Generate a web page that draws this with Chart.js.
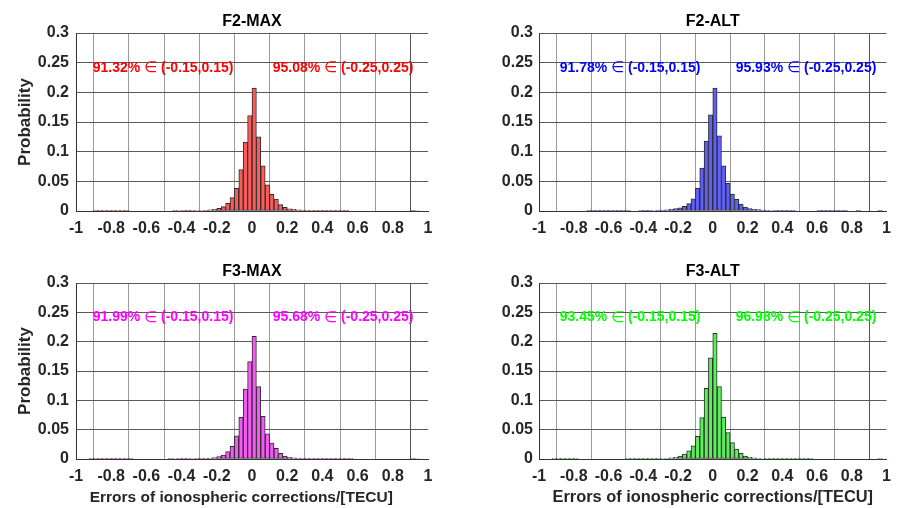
<!DOCTYPE html>
<html><head><meta charset="utf-8">
<script src="https://cdn.jsdelivr.net/npm/chart.js@4.4.1/dist/chart.umd.min.js"></script>
<style>
html,body{margin:0;padding:0;background:#fff;width:899px;height:508px;overflow:hidden;}
canvas{position:absolute;}
</style>
</head><body>
<canvas id="c0" width="449" height="250" style="left:0;top:0"></canvas>
<canvas id="c1" width="450" height="250" style="left:449px;top:0"></canvas>
<canvas id="c2" width="449" height="258" style="left:0;top:250px"></canvas>
<canvas id="c3" width="450" height="258" style="left:449px;top:250px"></canvas>
<script>
// ---- data ----
const binCenters = [
-0.9875,-0.9625,-0.9375,-0.9125,-0.8875,-0.8625,-0.8375,-0.8125,-0.7875,-0.7625,
-0.7375,-0.7125,-0.6875,-0.6625,-0.6375,-0.6125,-0.5875,-0.5625,-0.5375,-0.5125,
-0.4875,-0.4625,-0.4375,-0.4125,-0.3875,-0.3625,-0.3375,-0.3125,-0.2875,-0.2625,
-0.2375,-0.2125,-0.1875,-0.1625,-0.1375,-0.1125,-0.0875,-0.0625,-0.0375,-0.0125,
0.0125,0.0375,0.0625,0.0875,0.1125,0.1375,0.1625,0.1875,0.2125,0.2375,
0.2625,0.2875,0.3125,0.3375,0.3625,0.3875,0.4125,0.4375,0.4625,0.4875,
0.5125,0.5375,0.5625,0.5875,0.6125,0.6375,0.6625,0.6875,0.7125,0.7375,
0.7625,0.7875,0.8125,0.8375,0.8625,0.8875,0.9125,0.9375,0.9625,0.9875];

const probF2MAX = [
0,0,0,0,0.0003,0.0012,0.0006,0.0005,0.0005,0.0005,
0.0004,0.0003,0,0,0,0,0,0,0,0,
0,0,0.0004,0.0008,0.0012,0.0016,0.0012,0.0008,0.0008,0.0012,
0.0018,0.0028,0.0045,0.0073,0.0129,0.0225,0.038,0.070,0.116,0.161,
0.207,0.125,0.076,0.044,0.028,0.020,0.011,0.006,0.0038,0.0028,
0.002,0.0014,0.001,0.0006,0.0004,0.0003,0.0003,0.0003,0.0003,0.0003,
0.0003,0.0002,0,0,0,0,0,0,0,0,
0,0,0,0,0,0,0.0004,0.0008,0,0];

const probF2ALT = [
0,0,0,0,0,0,0,0,0,0,
0,0.0003,0.0003,0.0003,0.0003,0.0003,0.0003,0.0003,0.0003,0.0003,
0.0003,0,0,0.0004,0.0005,0.0006,0.0008,0.001,0.0015,0.002,
0.003,0.004,0.0055,0.008,0.0125,0.0205,0.038,0.0725,0.118,0.162,
0.207,0.1265,0.076,0.0465,0.0287,0.0197,0.0118,0.0065,0.004,0.003,
0.0022,0.0015,0.001,0.0008,0.0006,0.0005,0.0004,0.0004,0.0003,0,
0,0,0,0,0.0003,0.0003,0.0003,0.0003,0.0003,0.0003,
0.0003,0,0,0.0003,0,0,0,0,0.0003,0];

const probF3MAX = [
0,0,0,0.0003,0.0003,0.0003,0.0003,0.0003,0.0003,0.0003,
0.0003,0.0003,0.0003,0,0,0,0,0,0,0,
0,0.0005,0.0008,0.0012,0.0015,0.0012,0.0008,0.0005,0.0005,0.001,
0.0015,0.0023,0.004,0.0068,0.0125,0.0215,0.0395,0.071,0.119,0.166,
0.209,0.1234,0.0728,0.0428,0.027,0.018,0.0096,0.005,0.003,0.002,
0.0015,0.001,0.0006,0.0004,0.0003,0.0003,0.0003,0.0003,0.0003,0.0003,
0.0003,0.0003,0.0003,0,0,0,0,0,0,0,
0,0,0,0,0,0,0.0005,0.0008,0,0];

const probF3ALT = [
0,0,0,0.0003,0.0003,0.0003,0.0003,0.0003,0.0003,0,
0,0,0,0,0,0,0,0,0,0,
0.0004,0.0004,0.0004,0.0004,0.0004,0.0004,0.0004,0.0006,0.0008,0.0012,
0.0018,0.0028,0.005,0.0085,0.0141,0.0226,0.0385,0.0708,0.1206,0.1726,
0.214,0.1233,0.0715,0.045,0.028,0.017,0.0095,0.005,0.003,0.002,
0.0013,0.0008,0.0004,0.0004,0.0004,0.0004,0.0004,0.0004,0.0004,0.0004,
0.0004,0.0004,0.0004,0,0,0,0,0,0,0,
0,0,0,0,0,0,0,0,0.0005,0];

const xTickValues = [-1,-0.8,-0.6,-0.4,-0.2,0,0.2,0.4,0.6,0.8,1];
const xTickLabels = ['-1','-0.8','-0.6','-0.4','-0.2','0','0.2','0.4','0.6','0.8','1'];
const yTickValues = [0,0.05,0.1,0.15,0.2,0.25,0.3];
const yTickLabels = ['0','0.05','0.1','0.15','0.2','0.25','0.3'];

const panelTitles = ['F2-MAX','F2-ALT','F3-MAX','F3-ALT'];
const annotF2MAX = ['91.32% \u2208 (-0.15,0.15)','95.08% \u2208 (-0.25,0.25)'];
const annotF2ALT = ['91.78% \u2208 (-0.15,0.15)','95.93% \u2208 (-0.25,0.25)'];
const annotF3MAX = ['91.99% \u2208 (-0.15,0.15)','95.68% \u2208 (-0.25,0.25)'];
const annotF3ALT = ['93.45% \u2208 (-0.15,0.15)','96.98% \u2208 (-0.25,0.25)'];
const yLabel = 'Probability';
const xLabel = 'Errors of ionospheric corrections/[TECU]';

// ---- styling / layout ----
const FONT = "'Liberation Sans', Arial, Helvetica, sans-serif";
const TXT = '#262626';

const annotPlugin = {
  id: 'annot',
  afterDraw(chart, args, opts) {
    const c = chart.ctx, xs = chart.scales.x, ys = chart.scales.y;
    const boldF = "bold 14px 'Liberation Sans', Arial, sans-serif";
    const symF = "15px 'DejaVu Sans', sans-serif";
    c.save();
    c.fillStyle = opts.color;
    c.textAlign = 'left';
    c.textBaseline = 'middle';
    opts.items.forEach(it => {
      let px = xs.getPixelForValue(it.x);
      const py = ys.getPixelForValue(it.y);
      const parts = it.text.split('\u2208');
      parts.forEach((part, k) => {
        if (k > 0) {
          c.font = symF;
          c.fillText('\u2208', px, py);
          px += c.measureText('\u2208').width;
        }
        c.font = boldF;
        c.fillText(part, px, py);
        px += c.measureText(part).width;
      });
    });
    c.restore();
  }
};
Chart.register(annotPlugin);

function makeChart(p) {
  const el = document.getElementById(p.id);
  new Chart(el, {
    type: 'bar',
    data: {
      datasets: [{
        data: binCenters.map((c, i) => ({x: c, y: p.values[i] > 0 ? p.values[i] : null})),
        backgroundColor: p.fill,
        borderColor: '#2b2b2b',
        borderWidth: 1,
        borderSkipped: false,
        barPercentage: 1,
        categoryPercentage: 1
      }]
    },
    options: {
      responsive: false,
      animation: false,
      devicePixelRatio: 1,
      layout: {padding: {left: 0, top: 0, right: p.padRight, bottom: 0}},
      plugins: {
        legend: {display: false},
        tooltip: {enabled: false},
        title: {
          display: true, text: p.title, fullSize: false, color: '#000',
          font: {family: FONT, size: 16, weight: 'bold'},
          padding: {top: 11.8, bottom: 2}
        },
        annot: {
          color: p.textColor,
          items: [
            {text: p.annot[0], x: p.annX[0], y: 0.241},
            {text: p.annot[1], x: p.annX[1], y: 0.241}
          ]
        }
      },
      scales: {
        x: {
          type: 'linear', min: -1, max: 1, offset: false, z: 1,
          afterBuildTicks: s => { s.ticks = xTickValues.map(v => ({value: v})); },
          afterFit: s => { s.height = p.xAxisH; },
          ticks: {
            callback: (v, i) => xTickLabels[i],
            padding: 8, color: TXT, autoSkip: false, maxRotation: 0,
            font: {family: FONT, size: 16, weight: 'bold'}
          },
          grid: {
            drawTicks: false, lineWidth: 1,
            color: ctx => (ctx.index === 0 || ctx.index === xTickValues.length - 1) ? '#555' : '#9a9a9a'
          },
          border: {display: true, color: '#333'},
          title: {
            display: p.showX, text: p.xText, color: TXT,
            font: {family: FONT, size: p.xSize, weight: 'bold'},
            padding: {top: 0, bottom: 1}
          }
        },
        y: {
          min: 0, max: 0.3, z: 1,
          afterBuildTicks: s => { s.ticks = yTickValues.map(v => ({value: v})); },
          afterFit: s => { s.width = p.plotLeft; },
          ticks: {
            callback: (v, i) => yTickLabels[i],
            padding: p.yPad, color: TXT, autoSkip: false,
            font: {family: FONT, size: 16, weight: 'bold'}
          },
          grid: {drawTicks: false, lineWidth: 1, color: '#5a5a5a'},
          border: {display: true, color: '#333'},
          title: {
            display: p.showY, text: yLabel, color: TXT,
            font: {family: FONT, size: 17, weight: 'bold'},
            padding: {top: 14.8, bottom: 0}
          }
        }
      }
    }
  });
}

makeChart({id: 'c0', title: panelTitles[0], values: probF2MAX, fill: 'rgba(255,90,90,1)', textColor: '#ff0000',
  annot: annotF2MAX, annX: [-0.905, 0.1176], padRight: 21, plotLeft: 76, yPad: 7, xAxisH: 39,
  showY: true, showX: false, xText: '', xSize: 15.5});
makeChart({id: 'c1', title: panelTitles[1], values: probF2ALT, fill: 'rgba(95,95,250,1)', textColor: '#0000ff',
  annot: annotF2ALT, annX: [-0.881, 0.1316], padRight: 6, plotLeft: 90, yPad: 6, xAxisH: 39,
  showY: false, showX: false, xText: '', xSize: 16});
makeChart({id: 'c2', title: panelTitles[2], values: probF3MAX, fill: 'rgba(245,90,245,1)', textColor: '#ff00ff',
  annot: annotF3MAX, annX: [-0.905, 0.1176], padRight: 21, plotLeft: 76, yPad: 7, xAxisH: 49,
  showY: true, showX: true, xText: xLabel + '     ', xSize: 15.5});
makeChart({id: 'c3', title: panelTitles[3], values: probF3ALT, fill: 'rgba(90,240,90,1)', textColor: '#00ff00',
  annot: annotF3ALT, annX: [-0.881, 0.1316], padRight: 6, plotLeft: 90, yPad: 6, xAxisH: 49,
  showY: false, showX: true, xText: xLabel, xSize: 16.4});
</script>
</body></html>
